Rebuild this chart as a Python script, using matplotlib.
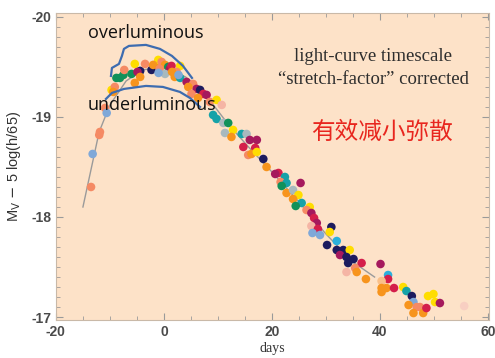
import numpy as np
import matplotlib.pyplot as plt

plt.rcParams['axes.unicode_minus'] = False

# dot colours used in the light curve compilation
palette = {
    "orange": "#F7941D", "salmon": "#F58A64", "yellow": "#FFDD00",
    "navy": "#1C1B5E", "crimson": "#D41E4B", "magenta": "#A5195D",
    "teal": "#16A2A8", "green": "#10915A", "lightblue": "#7FA8D8",
    "graybl": "#A8B9BE", "pink": "#F5B5A5", "cyan": "#2BB0DC",
    "lightorange": "#F9C08A", "faint": "#F8CFC2",
}

# corrected photometry: days from max, magnitude, colour key
days = [-13.5, -13.2, -11.85, -11.98, -10.9, -10.6, -9.7, -9.1, -9.4, -8.8,
        -8.15, -7.5, -7.35, -6.0, -5.4, -5.4, -4.4, -4.9, -3.5, -2.3,
        -4.4, -1.35, -1.05, -0.43, 0.2, -2.0, -0.8, 0.8, 1.1, 1.4,
        3.0, 2.35, 0.2, -1.0, 2.0, 3.0, 4.2, 5.4, 6.05, 6.7,
        4.5, 5.1, 7.3, 7.9, 1.5, 2.7, 8.5, 6.3, 9.75, 9.1,
        9.75, 10.7, 11.0, 11.9, 11.3, 12.8, 12.5, 14.4, 15.3, 15.9,
        17.2, 14.7, 16.9, 15.6, 16.2, 17.2, 18.4, 19.0, 21.2, 20.6,
        22.4, 21.6, 22.7, 21.8, 25.3, 22.7, 23.9, 24.9, 23.9, 25.5,
        24.4, 27.0, 26.4, 27.3, 27.8, 28.3, 27.3, 28.5, 31.0, 30.7,
        27.5, 28.9, 30.2, 32.0, 32.0, 33.2, 32.6, 34.4, 33.8, 35.1,
        34.1, 36.6, 35.4, 35.7, 33.8, 37.4, 40.1, 41.5, 41.5, 40.3,
        40.3, 41.2, 40.3, 42.6, 44.3, 44.9, 45.9, 46.2, 45.3, 46.8,
        46.2, 47.4, 48.0, 48.6, 48.9, 49.9, 50.2, 51.1, 55.6]
mags = [-18.30, -18.63, -18.85, -18.82, -19.09, -19.04, -19.27, -19.30, -19.25, -19.39,
        -19.39, -19.42, -19.47, -19.43, -19.53, -19.34, -19.46, -19.45, -19.53, -19.47,
        -19.40, -19.53, -19.57, -19.55, -19.52, -19.52, -19.48, -19.50, -19.48, -19.51,
        -19.51, -19.45, -19.43, -19.44, -19.40, -19.39, -19.35, -19.33, -19.28, -19.27,
        -19.30, -19.23, -19.23, -19.22, -19.45, -19.42, -19.15, -19.19, -19.17, -19.02,
        -18.98, -19.12, -18.94, -18.94, -18.84, -18.87, -18.80, -18.83, -18.83, -18.77,
        -18.77, -18.70, -18.69, -18.62, -18.63, -18.65, -18.58, -18.50, -18.44, -18.43,
        -18.40, -18.35, -18.34, -18.31, -18.34, -18.24, -18.27, -18.22, -18.18, -18.14,
        -18.11, -18.10, -18.07, -18.04, -17.99, -17.94, -17.91, -17.88, -17.90, -17.85,
        -17.84, -17.82, -17.72, -17.76, -17.67, -17.67, -17.62, -17.67, -17.60, -17.58,
        -17.54, -17.54, -17.49, -17.45, -17.45, -17.38, -17.53, -17.42, -17.38, -17.36,
        -17.29, -17.29, -17.25, -17.29, -17.30, -17.26, -17.21, -17.15, -17.12, -17.10,
        -17.04, -17.10, -17.04, -17.09, -17.21, -17.23, -17.15, -17.14, -17.11]
kinds = ["salmon", "lightblue", "salmon", "salmon", "salmon", "lightblue", "yellow", "salmon", "orange", "green",
         "green", "green", "salmon", "green", "yellow", "orange", "navy", "magenta", "salmon", "navy",
         "orange", "orange", "yellow", "salmon", "orange", "orange", "salmon", "green", "magenta", "crimson",
         "yellow", "salmon", "graybl", "lightblue", "orange", "teal", "magenta", "salmon", "magenta", "navy",
         "orange", "salmon", "crimson", "magenta", "orange", "lightblue", "salmon", "orange", "yellow", "teal",
         "teal", "pink", "graybl", "green", "graybl", "yellow", "orange", "teal", "graybl", "magenta",
         "magenta", "crimson", "crimson", "salmon", "orange", "yellow", "navy", "orange", "crimson", "magenta",
         "teal", "salmon", "teal", "green", "magenta", "orange", "graybl", "yellow", "orange", "teal",
         "green", "yellow", "salmon", "magenta", "crimson", "magenta", "pink", "crimson", "navy", "yellow",
         "lightblue", "lightblue", "navy", "cyan", "navy", "navy", "magenta", "yellow", "navy", "navy",
         "navy", "crimson", "salmon", "orange", "pink", "orange", "magenta", "cyan", "crimson", "lightorange",
         "orange", "orange", "orange", "crimson", "yellow", "teal", "navy", "lightblue", "orange", "salmon",
         "orange", "salmon", "orange", "crimson", "yellow", "yellow", "yellow", "magenta", "faint"]

# template light curve
tmpl_days = [-15, -12, -10, -7, -4, 0, 4, 8, 12, 16, 20, 25, 30, 35, 39]
tmpl_mags = [-18.10, -18.85, -19.12, -19.36, -19.47, -19.50, -19.40, -19.20,
             -18.92, -18.68, -18.45, -18.15, -17.83, -17.55, -17.40]

# envelopes of the uncorrected sample
over_days = [-9.81, -9.63, -8.33, -7.78, -7.41, -6.48, -3.33, -0.74, 1.48, 3.52, 5.19]
over_mags = [-19.41, -19.49, -19.53, -19.61, -19.68, -19.71, -19.72, -19.68, -19.61, -19.51, -19.39]
under_days = [-10.74, -9.63, -7.41, -3.33, -0.19, 2.96, 4.81, 6.67]
under_mags = [-19.18, -19.24, -19.28, -19.31, -19.30, -19.25, -19.19, -19.10]

fig = plt.figure(figsize=(4.95, 3.58), dpi=100)
ax = fig.add_axes([0.113, 0.106, 0.875, 0.858])
ax.set_facecolor("#FDE2C8")

ax.plot(tmpl_days, tmpl_mags, color="#9a9a9a", lw=1.0, zorder=1)
ax.scatter(days, mags, s=38, c=[palette[k] for k in kinds], linewidths=0, zorder=2)
ax.plot(over_days, over_mags, color="#3D6CB0", lw=1.6, zorder=3)
ax.plot(under_days, under_mags, color="#3D6CB0", lw=1.6, zorder=3)

ax.set_xlim(-20, 60.2)
ax.set_ylim(-16.97, -20.04)
ax.set_xticks([-20, 0, 20, 40, 60])
ax.set_xticks(np.arange(-20, 61, 5), minor=True)
ax.set_yticks([-20, -19, -18, -17])
ax.set_yticks(np.arange(-20, -16.95, 0.1), minor=True)
ax.tick_params(which="both", direction="in", top=True, right=True, color="#9a9a9a",
               labelcolor="#4a4a4a", labelsize=10)
ax.tick_params(which="major", length=5)
ax.tick_params(which="minor", length=3)
for lab in ax.get_xticklabels() + ax.get_yticklabels():
    lab.set_fontfamily("Liberation Sans")
    lab.set_fontweight("bold")
for sp in ax.spines.values():
    sp.set_color("#c9b9a8")

ax.set_ylabel(r"M$_\mathrm{V}$ $-$ 5 log(h/65)", fontsize=10.5, color="#333333",
              family="Liberation Sans", labelpad=6)
ax.set_xlabel("days", fontsize=10, color="#333333", family="Liberation Serif", labelpad=2)

ax.text(0.074, 0.935, "overluminous", transform=ax.transAxes, fontsize=13,
        family="Open Sans", color="#111111", va="center", ha="left")
ax.text(0.074, 0.700, "underluminous", transform=ax.transAxes, fontsize=13,
        family="Open Sans", color="#111111", va="center", ha="left", zorder=4)
ax.text(0.732, 0.857, "light-curve timescale", transform=ax.transAxes, fontsize=13.5,
        family="Liberation Serif", color="#2e2e2e", ha="center", va="center")
ax.text(0.732, 0.782, "\u201cstretch-factor\u201d corrected", transform=ax.transAxes, fontsize=13.5,
        family="Liberation Serif", color="#2e2e2e", ha="center", va="center")
ax.text(0.753, 0.612, "有效减小弥散", transform=ax.transAxes, fontsize=17,
        family="Noto Sans CJK SC", color="#E8261E", ha="center", va="center")

fig.savefig("out.png", dpi=100)
